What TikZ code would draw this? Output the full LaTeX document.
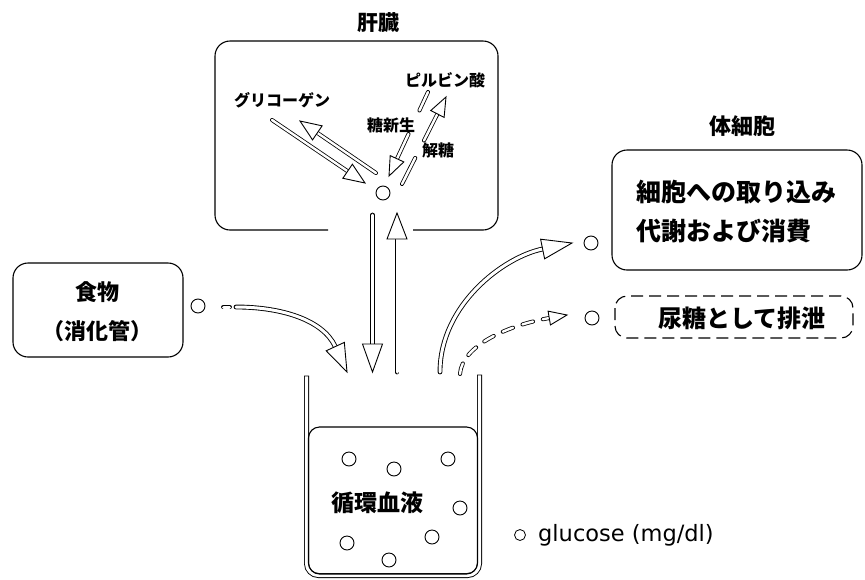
\documentclass[tikz,border=0pt]{standalone}
\usepackage{fontspec}
\newfontfamily\cjk{Noto Sans CJK JP}
\newfontfamily\lat{DejaVu Sans}
\usetikzlibrary{calc}
\newcommand{\hhead}[3]{\draw[head] ($(#1)!#3!90:(#2)$) -- (#2) -- ($(#1)!#3!-90:(#2)$) -- cycle;}
\tikzset{
  shaft/.style={draw=black, line width=0.9pt, double=white, double distance=3pt, line cap=round},
  thinshaft/.style={draw=black, line width=0.8pt, double=white, double distance=2.4pt, line cap=round},
  head/.style={draw=black, fill=white, line width=0.9pt, line join=miter},
  dot/.style={circle, draw, line width=0.9pt, minimum size=14pt, inner sep=0pt},
  smalldot/.style={circle, draw, line width=0.8pt, minimum size=11pt, inner sep=0pt},
  box/.style={draw, line width=1.1pt, rounded corners=15pt},
  wall/.style={draw=black, line width=0.9pt, double=white, double distance=3.2pt, line cap=rect},
  lbl/.style={inner sep=0pt},
}
\begin{document}
\begin{tikzpicture}[x=1pt,y=-1pt]
\useasboundingbox (0,0) rectangle (865,579);

% ---- liver ----
\node[lbl, font=\cjk\bfseries\fontsize{21}{25}\selectfont] (livertitle) at (378,23) {肝臓};
\draw[line width=1.1pt, rounded corners=15pt] (328,230) -| (215,41) -| (498,230) -- (413,230);
\node[dot] (lc) at (383,193) {};

\node[lbl, font=\cjk\bfseries\fontsize{16}{19}\selectfont] (glyc) at (282,100) {グリコーゲン};
\node[lbl, font=\cjk\bfseries\fontsize{16}{19}\selectfont] (pyr) at (445,80) {ピルビン酸};
\node[lbl, font=\cjk\bfseries\fontsize{16}{19}\selectfont] (gng) at (391,125) {糖新生};
\node[lbl, font=\cjk\bfseries\fontsize{16}{19}\selectfont] (gly) at (438,150) {解糖};

% glycogen -> glucose
\coordinate (a1t) at (272,120); \coordinate (a1e) at (365,183);
\coordinate (a1p) at ($(a1e)!21pt!(a1t)$);
\draw[thinshaft] (a1t) -- (a1p); \hhead{a1p}{a1e}{8.5pt}
% glucose -> glycogen
\coordinate (a2t) at (376,173); \coordinate (a2e) at (300,121);
\coordinate (a2p) at ($(a2e)!21pt!(a2t)$);
\draw[thinshaft] (a2t) -- (a2p); \hhead{a2p}{a2e}{8.5pt}
% gluconeogenesis
\coordinate (a3t) at (428,92); \coordinate (a3e) at (389,176);
\coordinate (a3p) at ($(a3e)!19pt!(a3t)$);
\draw[thinshaft] (a3t) -- ($(a3t)!0.22!(a3e)$);
\draw[thinshaft] ($(a3t)!0.5!(a3e)$) -- (a3p); \hhead{a3p}{a3e}{7.5pt}
% glycolysis
\coordinate (a4t) at (402,184); \coordinate (a4e) at (446,97);
\coordinate (a4p) at ($(a4e)!19pt!(a4t)$);
\draw[thinshaft] (a4t) -- ($(a4t)!0.3!(a4e)$);
\draw[thinshaft] ($(a4t)!0.5!(a4e)$) -- (a4p); \hhead{a4p}{a4e}{7.5pt}

% liver <-> blood
\coordinate (a5t) at (372.5,215); \coordinate (a5e) at (372.5,372);
\coordinate (a5p) at ($(a5e)!28pt!(a5t)$);
\draw[shaft] (a5t) -- (a5p); \hhead{a5p}{a5e}{10pt}
\coordinate (a6t) at (397,372); \coordinate (a6e) at (397,213);
\coordinate (a6p) at ($(a6e)!26pt!(a6t)$);
\draw[shaft] (a6t) -- (a6p); \hhead{a6p}{a6e}{10pt}

% ---- food ----
\draw[box] (13,263) rectangle (183,357);
\node[lbl, font=\cjk\bfseries\fontsize{22}{39}\selectfont, align=center] (food) at (97,312) {食物\\（消化管）};
\node[dot] (fc) at (198,306) {};
\coordinate (fd1) at (223.5,307); \coordinate (fd2) at (229.5,307);
\draw[shaft] (fd1) -- (fd2);
\coordinate (fs) at (236,307); \coordinate (fc1) at (280,307);
\coordinate (fc2) at (322.6,319.2); \coordinate (fe) at (347,372);
\coordinate (fp) at ($(fe)!28pt!(fc2)$);
\draw[shaft] (fs) .. controls (fc1) and (fc2) .. (fp); \hhead{fp}{fe}{10pt}

% ---- body cells ----
\node[lbl, font=\cjk\bfseries\fontsize{22}{26}\selectfont] (celltitle) at (742,126) {体細胞};
\draw[box] (612,150) rectangle (862,270);
\node[lbl, anchor=west, align=left, font=\cjk\bfseries\fontsize{25}{39}\selectfont] (celltext) at (636,212) {細胞への取り込み\\代謝および消費};
\node[dot] (cc) at (591,243) {};
\coordinate (cs) at (440,372); \coordinate (cc1) at (440,305);
\coordinate (cc2) at (503.4,257); \coordinate (ce) at (572,243);
\coordinate (cp) at ($(ce)!30pt!(cc2)$);
\draw[shaft] (cs) .. controls (cc1) and (cc2) .. (cp); \hhead{cp}{ce}{10pt}

% ---- urine ----
\draw[line width=1.1pt, rounded corners=12pt, dash pattern=on 12pt off 6pt] (615,296) rectangle (853,338);
\node[lbl, font=\cjk\bfseries\fontsize{24}{28}\selectfont] (urine) at (742,318) {尿糖として排泄};
\node[dot] (uc) at (592,318) {};
\coordinate (us) at (460,374); \coordinate (uc1) at (462,345);
\coordinate (uc2) at (509.9,324.8); \coordinate (ue) at (567,315);
\coordinate (up) at ($(ue)!18pt!(uc2)$);
\draw[thinshaft, dash pattern=on 11pt off 10pt] (us) .. controls (uc1) and (uc2) .. (up); \hhead{up}{ue}{7pt}

% ---- blood container ----
\draw[wall, rounded corners=12pt] (306.5,378) |- (479.5,575.5) -- (479.5,377);
\draw[line width=1.1pt, rounded corners=11pt] (308.5,427) rectangle (477.5,574);
\node[lbl, font=\cjk\bfseries\fontsize{23}{27}\selectfont] (blood) at (377,503) {循環血液};
\node[dot] (b1) at (349,459) {};
\node[dot] (b2) at (394,469) {};
\node[dot] (b3) at (448,459) {};
\node[dot] (b4) at (460,508) {};
\node[dot] (b5) at (347,543) {};
\node[dot] (b6) at (432,537) {};
\node[dot] (b7) at (389,560) {};

% ---- legend ----
\node[smalldot] (legdot) at (520,535) {};
\node[lbl, anchor=west, font=\lat\fontsize{22.5}{27}\selectfont] (legend) at (538,535) {glucose (mg/dl)};
\end{tikzpicture}
\end{document}
